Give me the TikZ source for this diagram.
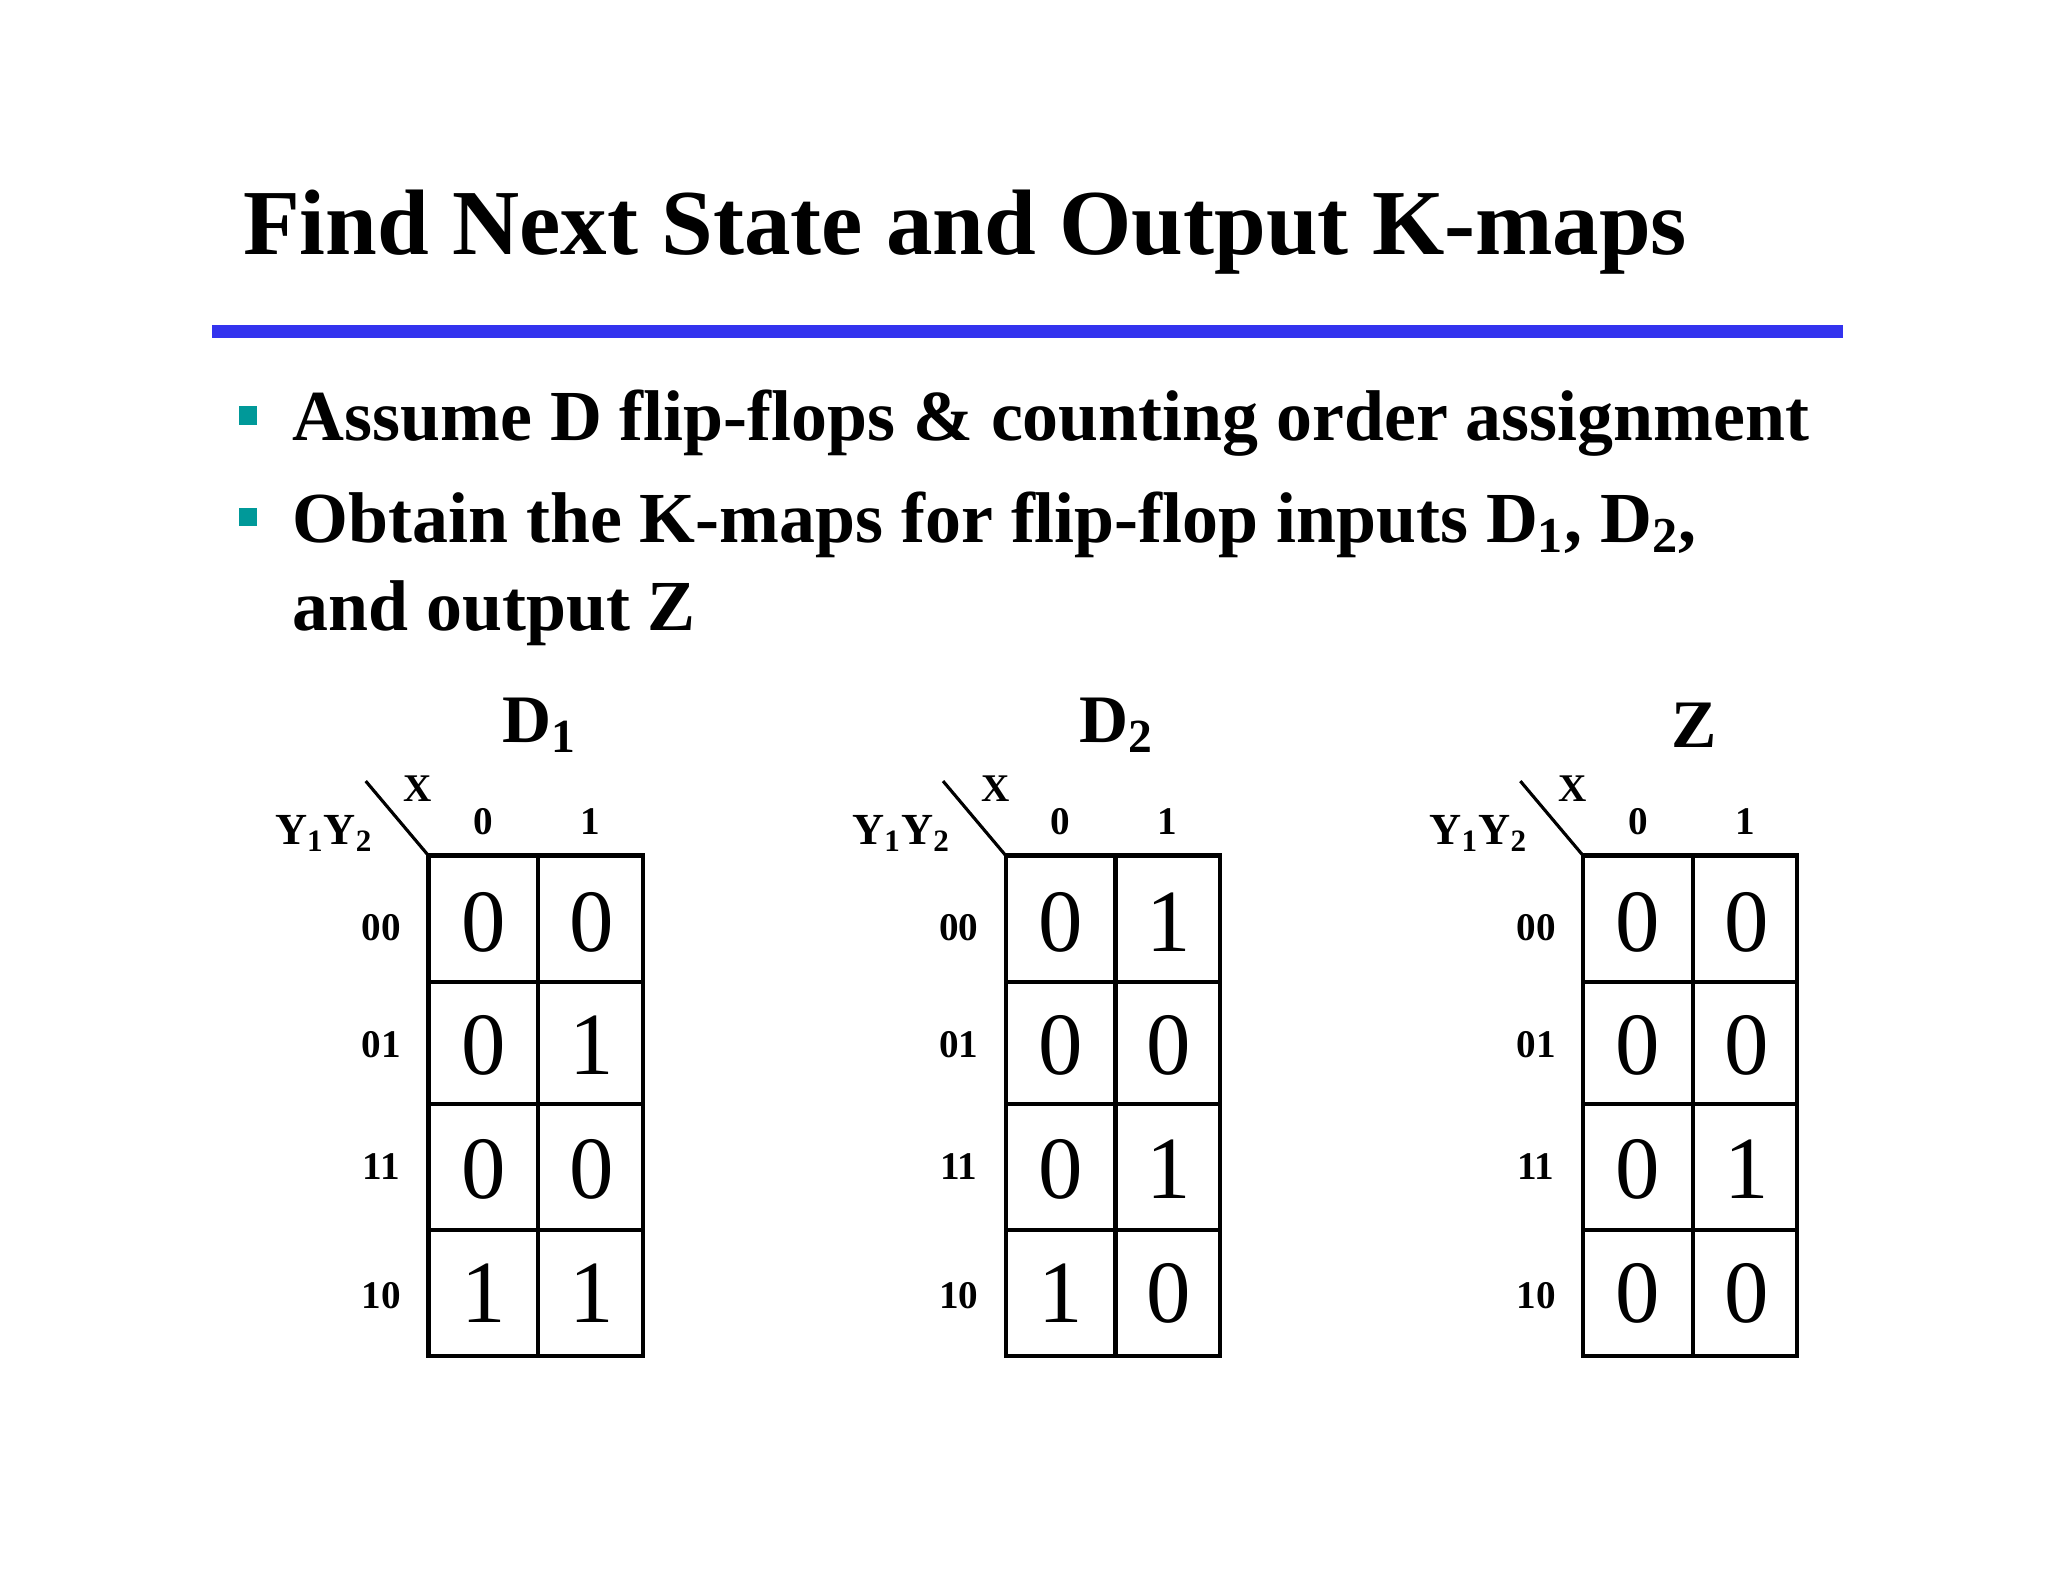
\documentclass[tikz,border=0pt]{standalone}
\usepackage{fontspec}
\setmainfont{Liberation Serif}
\begin{document}
\begin{tikzpicture}[x=0.5pt,y=-0.5pt,
  grid/.style={line width=1.6pt},
  val/.style={font=\fontsize{34}{34}\selectfont},
  lab/.style={font=\fontsize{15}{15}\selectfont\bfseries},
  ttl/.style={font=\fontsize{26}{26}\selectfont\bfseries},
  bul/.style={font=\fontsize{27.5}{30}\selectfont\bfseries,anchor=base west}]
\useasboundingbox[fill=white] (0,0) rectangle (1568,1211);
\node[font=\fontsize{35.6}{35.6}\selectfont\bfseries,anchor=base west] (title) at (179,195) {Find Next State and Output K-maps};
\fill[color={rgb,255:red,51;green,51;blue,238}] (162,249) rectangle (1411,259);
\fill[color={rgb,255:red,0;green,153;blue,153}] (183,311) rectangle (197,325);
\fill[color={rgb,255:red,0;green,153;blue,153}] (183,389) rectangle (197,403);
\node[bul] (b1) at (217,337) {Assume D flip-flops \& counting order assignment};
\node[bul] (b2) at (217,415) {Obtain the K-maps for flip-flop inputs D\textsubscript{1}, D\textsubscript{2},};
\node[bul] (b3) at (217,483) {and output Z};
\foreach \ox/\name/\a/\b/\c/\d/\e/\f/\g/\h in {0/D\textsubscript{1}/0/0/0/1/0/0/1/1, 442/D\textsubscript{2}/0/1/0/0/0/1/1/0, 884/Z/0/0/0/0/0/1/0/0}{
  \begin{scope}[xshift=\ox*0.5pt]
  \node[ttl] (t) at (413,555) {\name};
  \draw[grid] (328,655) rectangle (492,1038);
  \draw[grid] (412,655) -- (412,1038);
  \foreach \yy in {752,845,942} \draw[grid] (328,\yy) -- (492,\yy);
  \draw[line width=1.2pt] (280,598) -- (328,655);
  \node[lab] (xl) at (320,604) {X};
  \node[lab,font=\fontsize{17}{17}\selectfont\bfseries] (yl) at (248,638) {Y\textsubscript{1}Y\textsubscript{2}};
  \node[lab] (c0) at (370,629) {0};
  \node[lab] (c1) at (452,629) {1};
  \node[lab] (r0) at (292,710) {00};
  \node[lab] (r1) at (292,800) {01};
  \node[lab] (r2) at (292,893) {11};
  \node[lab] (r3) at (292,992) {10};
  \node[val] (v1) at (370,706) {\a};
  \node[val] (v2) at (453,706) {\b};
  \node[val] (v3) at (370,800) {\c};
  \node[val] (v4) at (453,800) {\d};
  \node[val] (v5) at (370,895) {\e};
  \node[val] (v6) at (453,895) {\f};
  \node[val] (v7) at (370,990) {\g};
  \node[val] (v8) at (453,990) {\h};
  \end{scope}}
\end{tikzpicture}
\end{document}
